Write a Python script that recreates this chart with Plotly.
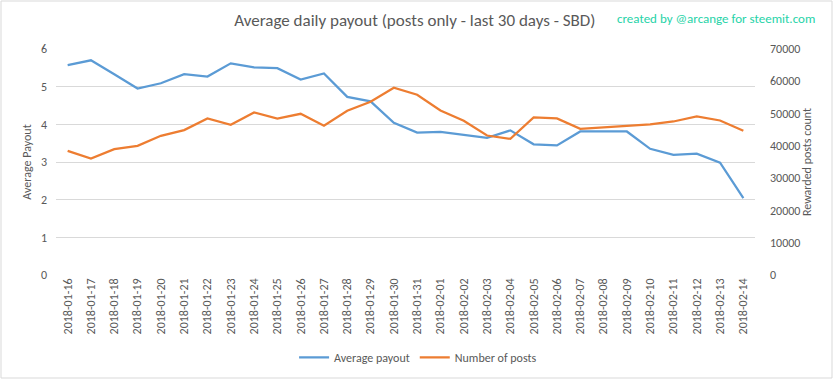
import plotly.graph_objects as go

dates = ["2018-01-16","2018-01-17","2018-01-18","2018-01-19","2018-01-20","2018-01-21","2018-01-22",
         "2018-01-23","2018-01-24","2018-01-25","2018-01-26","2018-01-27","2018-01-28","2018-01-29",
         "2018-01-30","2018-01-31","2018-02-01","2018-02-02","2018-02-03","2018-02-04","2018-02-05",
         "2018-02-06","2018-02-07","2018-02-08","2018-02-09","2018-02-10","2018-02-11","2018-02-12",
         "2018-02-13","2018-02-14"]
avg_payout = [5.57, 5.70, 5.33, 4.95, 5.09, 5.33, 5.27, 5.62, 5.51, 5.49, 5.19, 5.35, 4.73, 4.61,
              4.04, 3.78, 3.80, 3.72, 3.64, 3.84, 3.47, 3.44, 3.81, 3.81, 3.81, 3.35, 3.19, 3.22,
              2.98, 2.04]
num_posts = [38460, 36070, 38980, 40010, 43110, 44870, 48480, 46520, 50340, 48480, 49930, 46210,
             50860, 53650, 58000, 55820, 50960, 47760, 43210, 42180, 48790, 48480, 45280, 45800,
             46210, 46620, 47550, 49100, 47860, 44660]

FONT = "Calibri, Carlito, 'Liberation Sans Narrow', 'Open Sans', sans-serif"
GRAY = "#595959"

fig = go.Figure()
fig.add_trace(go.Scatter(x=dates, y=avg_payout, name="Average payout", mode="lines",
                         line=dict(color="#5b9bd5", width=2.25), yaxis="y"))
fig.add_trace(go.Scatter(x=dates, y=num_posts, name="Number of posts", mode="lines",
                         line=dict(color="#ed7d31", width=2.25), yaxis="y2"))

fig.update_layout(
    width=833, height=379,
    margin=dict(l=56, r=78, t=49, b=104, autoexpand=False),
    paper_bgcolor="white", plot_bgcolor="white",
    font=dict(family=FONT, color=GRAY, size=12),
    title=dict(text="Average daily payout (posts only - last 30 days - SBD)",
               x=0.498, xanchor="center", y=0.947, yanchor="middle",
               font=dict(size=17, color=GRAY, family=FONT)),
    xaxis=dict(type="category", range=[-0.5, 29.5], tickangle=-90, showgrid=False,
               showline=False, ticks="", tickfont=dict(size=12, color=GRAY), zeroline=False,
               automargin=False),
    yaxis=dict(range=[0, 6], dtick=1, showgrid=True, gridcolor="#d9d9d9", gridwidth=1,
               zeroline=False, showline=False, ticks="", tickfont=dict(size=12, color=GRAY),
               automargin=False, ticklabelstandoff=8,
               title=dict(text="Average Payout", font=dict(size=12, color=GRAY), standoff=6)),
    yaxis2=dict(range=[0, 70000], dtick=10000, overlaying="y", side="right", showgrid=False,
                zeroline=False, showline=False, ticks="", tickfont=dict(size=12, color=GRAY),
                tickformat="d", automargin=False, ticklabelstandoff=14,
                title=dict(text="Rewarded posts count", font=dict(size=12, color=GRAY), standoff=2)),
    legend=dict(orientation="h", x=0.518, xanchor="center", y=-0.30, yanchor="top",
                font=dict(size=12, color=GRAY), itemwidth=30, traceorder="normal"),
    showlegend=True,
)

fig.add_annotation(text="created by @arcange for steemit.com", xref="paper", yref="paper",
                   x=1.088, xanchor="right", y=1.135, yanchor="middle", showarrow=False,
                   font=dict(size=13, color="#26d3a8", family=FONT))

fig.add_shape(type="rect", xref="paper", yref="paper", x0=-55/699, x1=1+77/699,
              y0=-103/226, y1=1+48/226, line=dict(color="#d9d9d9", width=1), layer="below")

fig.write_html("out.html", config={"displayModeBar": False},
               post_script="document.body.style.margin='0';")
